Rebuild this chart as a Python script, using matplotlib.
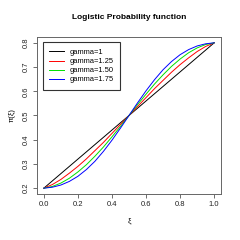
import numpy as np
import matplotlib
matplotlib.use("Agg")
import matplotlib.pyplot as plt

plt.rcParams['font.family'] = ['Liberation Sans', 'DejaVu Sans']

# values (lower half, x = 0 .. 0.5)
x_half = [0.0, 0.05, 0.10, 0.15, 0.20, 0.25, 0.30, 0.35, 0.40, 0.45, 0.50]
y_g100 = [0.200, 0.230, 0.260, 0.290, 0.320, 0.350, 0.380, 0.410, 0.440, 0.470, 0.500]
y_g125 = [0.200, 0.215, 0.236, 0.262, 0.290, 0.321, 0.355, 0.389, 0.426, 0.463, 0.500]
y_g150 = [0.200, 0.207, 0.221, 0.241, 0.267, 0.297, 0.332, 0.370, 0.412, 0.455, 0.500]
y_g175 = [0.200, 0.204, 0.213, 0.228, 0.249, 0.277, 0.311, 0.352, 0.398, 0.448, 0.500]

labels = ["gamma=1", "gamma=1.25", "gamma=1.50", "gamma=1.75"]
colors = ["black", "#FF0000", "#00E000", "#0000FF"]

# curves are point-symmetric about (0.5, 0.5)
xs = np.array(x_half + [1 - v for v in x_half[-2::-1]])

fig = plt.figure(figsize=(2.4, 2.4), dpi=100)
ax = fig.add_axes([37 / 240, 1 - 194 / 240, 184 / 240, 157 / 240])

for ys, lab, c in zip([y_g100, y_g125, y_g150, y_g175], labels, colors):
    full = np.array(ys + [1 - v for v in ys[-2::-1]])
    ax.plot(xs, full, color=c, lw=0.7, label=lab)

ax.set_xlim(-0.04, 1.04)
ax.set_ylim(0.176, 0.824)
ax.set_xticks([0.0, 0.2, 0.4, 0.6, 0.8, 1.0])
ax.set_yticks([0.2, 0.3, 0.4, 0.5, 0.6, 0.7, 0.8])
ax.set_xticklabels(["0.0", "0.2", "0.4", "0.6", "0.8", "1.0"])
ax.set_yticklabels(["0.2", "0.3", "0.4", "0.5", "0.6", "0.7", "0.8"],
                   rotation=90, va="center")
ax.tick_params(labelsize=5.5, length=3, width=0.6, color="#555555",
               labelcolor="#222222", pad=2)
for s in ax.spines.values():
    s.set_linewidth(0.7)
    s.set_color("#666666")

ax.set_xlabel("ξ", fontsize=5.5, labelpad=7)
ax.set_ylabel("π(ξ)", fontsize=5.5, labelpad=5)
ax.set_title("Logistic Probability function", fontsize=6, fontweight="bold",
             pad=13)

leg = ax.legend(loc="upper left", bbox_to_anchor=(0.03, 0.965), fontsize=5.4,
                frameon=True, fancybox=False, handlelength=2.0,
                handletextpad=0.7, labelspacing=0.25, borderpad=0.85,
                borderaxespad=0)
leg.get_frame().set_edgecolor("black")
leg.get_frame().set_linewidth(0.8)

fig.savefig("out.png", dpi=100)
